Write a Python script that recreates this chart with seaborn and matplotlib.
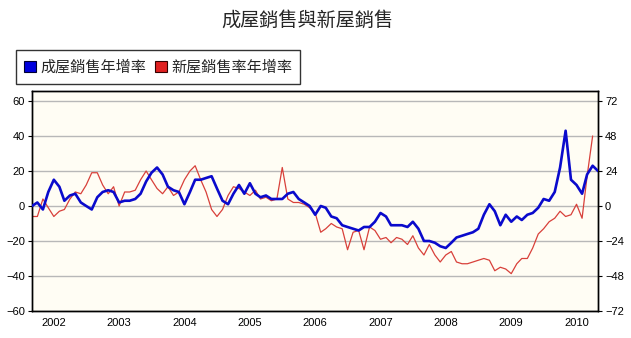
import numpy as np
import pandas as pd
import matplotlib
matplotlib.use("Agg")
import matplotlib.pyplot as plt
from matplotlib.patches import Patch
import seaborn as sns

# ---------------- data ----------------
start_month = "2001-09-01"
# 成屋銷售年增率 (left axis, %)
existing_sales = [0, 2, -2, 8, 15, 11, 3, 6, 7, 2, 0, -2, 5, 8, 9, 8, 2, 3, 3, 4,
                  7, 14, 19, 22, 18, 11, 9, 8, 1, 8, 15, 15, 16, 17, 10, 3, 1, 7, 12, 7,
                  13, 7, 5, 6, 4, 4, 4, 7, 8, 4, 2, 0, -5, 0, -1, -6, -7, -11, -12, -13,
                  -14, -12, -12, -9, -4, -6, -11, -11, -11, -12, -9, -13, -20, -20, -21, -23, -24, -21, -18, -17,
                  -16, -15, -13, -5, 1, -3, -11, -5, -9, -6, -8, -5, -4, -1, 4, 3, 8, 22, 43, 15,
                  12, 7, 18, 23, 20]
# 新屋銷售率年增率 (right axis, %)
new_sales_left_units = [-6, -6, 4, -1, -6, -3, -2, 4, 8, 7, 12, 19, 19, 12, 7, 11, 0, 8, 8, 9,
                        15, 20, 15, 10, 7, 11, 6, 8, 15, 20, 23, 15, 8, -2, -6, -2, 6, 11, 10, 8,
                        6, 9, 4, 5, 3, 4, 22, 4, 2, 2, 1, -1, -4, -15, -13, -10, -12, -13, -25, -15,
                        -14, -25, -12, -14, -19, -18, -21, -18, -19, -22, -17, -24, -28, -22, -28, -32, -28, -26, -32, -33,
                        -33, -32, -31, -30, -31, -37, -35, -36, -38.7, -33, -30, -30, -24, -16, -13, -9, -7, -3, -6, -5,
                        1, -7, 17, 40]
new_sales = [round(v * 1.2, 1) for v in new_sales_left_units]

years = [2002, 2003, 2004, 2005, 2006, 2007, 2008, 2009, 2010]
left_ticks = [-60, -40, -20, 0, 20, 40, 60]
right_ticks = [-72, -48, -24, 0, 24, 48, 72]

title = "成屋銷售與新屋銷售"
label_existing = "成屋銷售年增率"
label_new = "新屋銷售率年增率"

dates_e = pd.date_range(start_month, periods=len(existing_sales), freq="MS")
dates_n = pd.date_range(start_month, periods=len(new_sales), freq="MS")
df_e = pd.DataFrame({"date": dates_e, "value": existing_sales})
df_n = pd.DataFrame({"date": dates_n, "value": new_sales})

# ---------------- style ----------------
sns.set_style("white")
plt.rcParams["font.family"] = ["Liberation Sans", "Noto Sans CJK TC", "DejaVu Sans"]

fig = plt.figure(figsize=(6.31, 3.38), dpi=100)
fig.patch.set_facecolor("white")
ax = fig.add_axes([32 / 631, 1 - 311 / 338, (598 - 32) / 631, (311 - 91) / 338])
ax.set_facecolor("#FFFDF4")
ax2 = ax.twinx()

blue = "#0A0ACC"
red = "#D8403A"

sns.lineplot(data=df_e, x="date", y="value", ax=ax, color=blue, linewidth=1.9, zorder=3)
sns.lineplot(data=df_n, x="date", y="value", ax=ax2, color=red, linewidth=0.9, zorder=2)
ax.set_zorder(ax2.get_zorder() + 1)
ax.patch.set_visible(False)
ax2.patch.set_visible(True)
ax2.set_facecolor("#FFFDF4")

ax.set_ylim(-60, 65.7)
ax2.set_ylim(-72, 65.7 * 1.2)
ax.set_xlim(pd.Timestamp("2001-09-01"), dates_e[-1])
ax.set_yticks(left_ticks)
ax2.set_yticks(right_ticks)
ax.set_xticks([pd.Timestamp(f"{y}-01-01") for y in years])
ax.set_xticklabels([str(y) for y in years])
ax.set_xlabel("")
ax.set_ylabel("")
ax2.set_ylabel("")

ax2.yaxis.grid(True, color="#B8B8B8", linewidth=1.0)
ax2.set_axisbelow(True)
ax.grid(False)

for a in (ax, ax2):
    for s in a.spines.values():
        s.set_visible(True)
        s.set_color("black")
        s.set_linewidth(1.0)
    a.tick_params(axis="both", labelsize=8, colors="black", length=3, width=0.8, pad=2)
ax.tick_params(axis="x", length=0, pad=5)

fig.text(0.487, 0.94, title, ha="center", va="center", fontsize=13.8,
         family=["Noto Sans CJK TC", "DejaVu Sans"])

handles = [Patch(facecolor="#0000DD", edgecolor="#000033", linewidth=0.8, label=label_existing),
           Patch(facecolor="#E02020", edgecolor="#330000", linewidth=0.8, label=label_new)]
leg = fig.legend(handles=handles, loc="upper left", bbox_to_anchor=(16 / 631, 1 - 50 / 338),
                 ncol=2, frameon=True, fancybox=False,
                 prop={"family": ["Noto Sans CJK TC", "DejaVu Sans"], "size": 10.9},
                 handlelength=0.75, handleheight=0.75, handletextpad=0.3, columnspacing=0.6,
                 borderpad=0.55, borderaxespad=0)
leg.get_frame().set_edgecolor("black")
leg.get_frame().set_linewidth(1.0)

fig.savefig("out.png", dpi=100, facecolor="white")
